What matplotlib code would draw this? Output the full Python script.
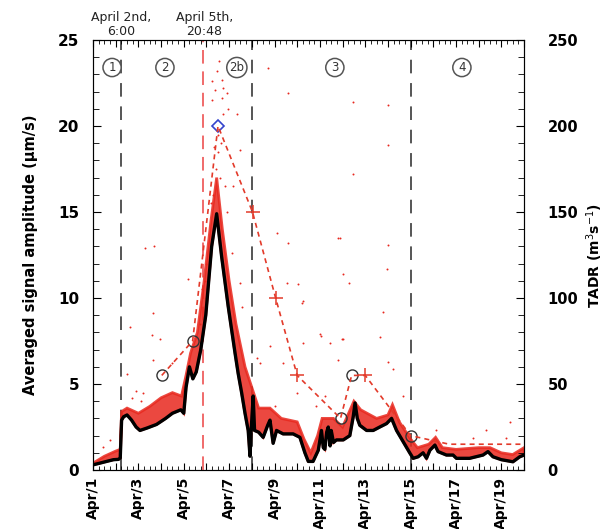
import numpy as np
import matplotlib
matplotlib.use('Agg')
import matplotlib.pyplot as plt
from matplotlib.ticker import MultipleLocator, FixedLocator

# time in days after April 1st 00:00
amp_t = [0.0, 0.3, 0.6, 0.9, 1.12, 1.2, 1.26, 1.35, 1.5, 1.7, 1.9, 2.07, 2.4, 2.8, 3.2, 3.5,
         3.87, 4.0, 4.1, 4.25, 4.4, 4.55, 4.75, 4.97, 5.23, 5.45, 5.67, 5.96, 6.26, 6.4, 6.55,
         6.7, 6.84, 6.92, 6.98, 7.06, 7.12, 7.3, 7.5, 7.7, 7.8, 7.94, 8.09, 8.38, 8.82, 9.12,
         9.34, 9.49, 9.7, 9.93, 10.07, 10.15, 10.22, 10.3, 10.37, 10.45, 10.5, 10.6, 10.73,
         11.03, 11.32, 11.47, 11.55, 11.65, 11.76, 12.06, 12.35, 12.64, 12.94, 13.16, 13.38,
         13.67, 13.96, 14.11, 14.33, 14.55, 14.7, 14.85, 15.07, 15.21, 15.58, 15.87, 16.02,
         16.6, 17.19, 17.41, 17.63, 18.0, 18.51, 18.81, 19.0]
amp_v = [0.3, 0.4, 0.5, 0.6, 0.62, 0.7, 2.9, 3.1, 3.2, 2.9, 2.5, 2.3, 2.45, 2.65, 3.0, 3.3,
         3.5, 3.3, 4.8, 6.0, 5.3, 5.7, 7.0, 9.0, 13.0, 14.9, 12.4, 9.5, 6.8, 5.6, 4.5,
         3.3, 2.3, 0.8, 2.5, 4.3, 2.3, 2.2, 1.9, 2.6, 2.9, 1.55, 2.3, 2.1, 2.1, 1.9,
         1.0, 0.5, 0.5, 1.15, 2.3, 1.3, 1.2, 2.2, 2.5, 1.4, 2.3, 1.6, 1.75,
         1.75, 2.0, 3.1, 3.9, 3.0, 2.6, 2.3, 2.3, 2.5, 2.7, 3.0, 2.3,
         1.65, 1.0, 0.68, 0.77, 1.0, 0.68, 1.15, 1.45, 1.07, 0.87, 0.87, 0.68,
         0.68, 0.87, 1.07, 0.77, 0.6, 0.48, 0.77, 0.87]

# upper edge of the dense cloud of single-station amplitudes
cloud_t = [0.0, 0.5, 1.0, 1.2, 1.26, 1.5, 2.0, 2.5, 3.0, 3.5, 3.9, 4.1, 4.3, 4.6, 4.9, 5.2,
           5.45, 5.7, 6.0, 6.3, 6.7, 7.0, 7.3, 7.8, 8.3, 9.0, 9.3, 9.6, 9.9, 10.1, 10.6, 11.0,
           11.5, 11.8, 12.5, 13.0, 13.2, 13.5, 14.0, 14.3, 14.8, 15.1, 15.4, 16.0, 17.0, 17.5,
           18.0, 18.5, 19.0]
cloud_v = [0.4, 0.8, 1.1, 1.2, 3.4, 3.6, 3.3, 3.7, 4.2, 4.5, 4.3, 5.5, 6.8, 8.0, 11.0, 14.5,
           17.0, 14.0, 11.0, 8.5, 6.0, 4.8, 3.6, 3.6, 3.0, 2.8, 1.8, 1.0, 2.0, 3.0, 3.0, 2.5,
           4.0, 3.5, 3.0, 3.2, 3.8, 2.8, 1.8, 1.3, 1.5, 1.9, 1.3, 1.2, 1.3, 1.3,
           1.0, 0.9, 1.3]

# isolated outlying points
dots_t = [5.55, 5.45, 5.23, 5.67, 5.74, 5.89, 5.37, 5.67, 5.96, 5.74, 5.23, 7.72, 8.60, 11.47,
          13.01, 13.01, 11.47, 10.88, 13.01, 11.03, 11.29, 12.94, 12.79, 12.64, 10.96, 10.07,
          9.26, 2.29, 2.70, 2.66, 1.63, 4.20, 8.09, 8.60, 8.53, 9.04, 9.19, 10.81, 6.33, 6.48,
          6.18, 6.11, 6.48, 6.55, 2.59, 2.95, 2.66, 1.48, 2.22, 3.47, 0.45, 0.75, 7.21, 7.36,
          7.80, 8.38, 9.26, 10.0, 10.44, 11.03, 10.81, 8.02, 8.97, 9.85, 10.22, 13.01, 13.23,
          13.67, 17.34, 18.37, 15.14, 16.75, 18.22, 5.3, 5.4, 5.5, 5.6, 5.5, 5.35, 5.65, 5.8,
          5.2, 5.9, 4.95, 4.97, 4.93, 4.99, 4.7, 4.8, 1.7, 1.9, 2.1]
dots_v = [23.8, 23.2, 22.6, 22.7, 22.2, 21.9, 22.1, 21.6, 21.0, 20.7, 21.5, 23.4, 21.9, 21.4,
          21.2, 18.9, 17.2, 13.5, 13.1, 11.4, 10.9, 11.7, 9.2, 7.75, 7.6, 7.8,
          9.8, 12.9, 13.0, 9.1, 8.3, 11.1, 13.8, 13.2, 10.9, 10.8, 9.7, 13.5, 20.7, 18.6,
          16.5, 12.6, 10.9, 9.5, 7.85, 7.6, 6.4, 5.6, 4.5, 6.2, 1.35, 1.75, 6.5, 6.2,
          7.2, 6.2, 7.4, 7.9, 7.4, 7.6, 6.4, 3.7, 4.5, 3.7, 4.3, 6.3, 5.9,
          4.3, 2.3, 2.8, 2.3, 1.85, 1.85, 16.0, 17.5, 18.5, 17.0, 19.5, 18.8, 19.0, 16.5,
          15.5, 15.0, 9.0, 10.0, 11.0, 12.0, 8.5, 10.5, 4.2, 4.6, 4.0]

# TADR (m3/s), right axis
tadr_t = [3.03, 4.39, 5.51, 7.03, 8.05, 9.0, 10.91, 11.4, 12.0, 14.0, 15.7, 19.0]
tadr_v = [55, 75, 200, 150, 100, 55, 30, 55, 55, 20, 15, 15]
tadr_kind = ['o', 'o', 'D', '+', '+', '+', 'o', 'o', '+', 'o', '', '']

phase_lines = [1.25, 7.0, 14.0]
eruption_t = 4.867
phase_t = [0.84, 3.17, 6.34, 10.66, 16.26]
phase_lab = ['1', '2', '2b', '3', '4']
day_lab = ['Apr/%d' % d if d % 2 == 1 else '' for d in range(1, 21)]

fig = plt.figure(figsize=(6.14, 5.29), dpi=100)
ax = fig.add_axes([0.1515, 0.1115, 0.702, 0.8129])

# dense cloud: polygon between the averaged curve and the upper edge
poly_x = np.concatenate([cloud_t, amp_t[::-1]])
poly_y = np.concatenate([cloud_v, amp_v[::-1]])
ax.fill(poly_x, poly_y, color='#e8281e', lw=2.0, ec='#e8281e', alpha=0.85, zorder=2)
ax.scatter(dots_t, dots_v, s=2, color='#e8281e', lw=0, zorder=2)
ax.plot(amp_t, amp_v, color='black', lw=2.4, zorder=3)

for x in phase_lines:
    ax.axvline(x, color='#555555', lw=1.4, dashes=(7, 5), zorder=1)
ax.axvline(eruption_t, color='#f06a6a', lw=1.4, dashes=(7, 4), zorder=1)

for x, s in zip(phase_t, phase_lab):
    ax.text(x, 23.4, s, ha='center', va='center', fontsize=8.5, color='#333333', zorder=6,
            bbox=dict(boxstyle='circle,pad=0.22', fc='white', ec='#555555', lw=1.1))

ax.set_xlim(0, 19)
ax.set_ylim(0, 25)
ax.xaxis.set_major_locator(FixedLocator(range(0, 20)))
ax.set_xticklabels(day_lab[:20], rotation=90, fontsize=10, fontweight='bold')
ax.xaxis.set_minor_locator(MultipleLocator(0.25))
ax.yaxis.set_major_locator(MultipleLocator(5))
ax.yaxis.set_minor_locator(MultipleLocator(1))
ax.tick_params(axis='x', which='both', direction='in', top=True, bottom=True, pad=5)
ax.tick_params(axis='x', which='major', length=5)
ax.tick_params(axis='x', which='minor', length=3)
ax.tick_params(axis='y', which='both', direction='in', right=False)
ax.tick_params(axis='y', which='major', length=6, labelsize=11, pad=10)
ax.tick_params(axis='y', which='minor', length=4)
for lb in ax.get_yticklabels():
    lb.set_fontweight('bold')
ax.set_ylabel('Averaged signal amplitude (μm/s)', fontsize=10.5, fontweight='bold', labelpad=14)

ax2 = ax.twinx()
ax2.plot(tadr_t, tadr_v, color='#e33a2a', lw=1.2, dashes=(3, 2.5), zorder=4)
for t, v, k in zip(tadr_t, tadr_v, tadr_kind):
    if k == 'o':
        ax2.plot(t, v, 'o', ms=8, mfc='none', mec='#333333', mew=1.0)
    elif k == 'D':
        ax2.plot(t, v, 'D', ms=6.5, mfc='white', mec='#3344cc', mew=1.2)
    elif k == '+':
        ax2.plot(t, v, '+', ms=10, color='#e33a2a', mew=1.1)
ax2.set_ylim(0, 250)
ax2.yaxis.set_major_locator(MultipleLocator(50))
ax2.yaxis.set_minor_locator(MultipleLocator(10))
ax2.tick_params(axis='y', which='both', direction='in')
ax2.tick_params(axis='y', which='major', length=6, labelsize=10.5, pad=17)
ax2.tick_params(axis='y', which='minor', length=4)
for lb in ax2.get_yticklabels():
    lb.set_fontweight('bold')
ax2.set_ylabel('TADR (m$^{3}$s$^{-1}$)', fontsize=10, fontweight='bold', labelpad=4)

for sp in ['top', 'bottom', 'left', 'right']:
    ax.spines[sp].set_color('#444444')

ax.text(1.25, 1.004, 'April 2nd,\n6:00', transform=ax.get_xaxis_transform(), ha='center',
        va='bottom', fontsize=9, color='#222222', linespacing=1.15)
ax.text(4.9, 1.004, 'April 5th,\n20:48', transform=ax.get_xaxis_transform(), ha='center',
        va='bottom', fontsize=9, color='#222222', linespacing=1.15)

fig.savefig('out.png', dpi=100)
